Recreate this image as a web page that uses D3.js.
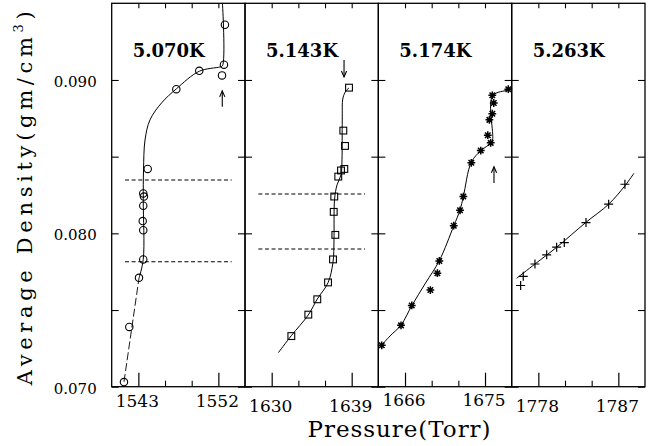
<!DOCTYPE html>
<html><head><meta charset="utf-8">
<script src="https://cdn.jsdelivr.net/npm/d3@7"></script>
<style>body{margin:0;background:#fff}svg{display:block}</style>
</head><body>
<svg id="c" width="653" height="446"></svg>
<script>
// ---------- data ----------
const temps = ["5.070K", "5.143K", "5.174K", "5.263K"];
const xDomains = [[1540, 1555], [1627, 1642], [1663, 1678], [1775, 1790]];
const xMajorTicks = [[1543, 1552], [1630, 1639], [1666, 1675], [1778, 1787]];
const xMinorTicks = [[1546, 1549], [1633, 1636], [1669, 1672], [1781, 1784]];
const yDomain = [0.070, 0.095];
const yTicks = [0.070, 0.075, 0.080, 0.085, 0.090];
const yTickLabels = ["0.070", "0.080", "0.090"];
const markerTypes = ["circle", "square", "star", "plus"];

// measured points [pressure (Torr), average density (gm/cm^3)]
const pts5070 = [[1552.74,0.0936],[1552.63,0.0910],[1552.41,0.0903],[1549.85,0.0906],[1547.27,0.0894],
  [1544.05,0.0842],[1543.55,0.0826],[1543.63,0.0824],[1543.55,0.0818],[1543.49,0.0808],
  [1543.55,0.0802],[1543.55,0.0783],[1543.07,0.0771],[1541.98,0.0739],[1541.38,0.0703]];
const pts5143 = [[1638.70,0.0895],[1638.06,0.0867],[1638.25,0.0857],[1638.17,0.0842],[1637.80,0.0841],
  [1637.49,0.0837],[1637.04,0.0824],[1636.98,0.0814],[1637.16,0.0799],[1636.90,0.0783],
  [1636.34,0.0768],[1635.13,0.0757],[1634.12,0.0747],[1632.21,0.0733]];
const pts5174 = [[1677.62,0.0894],[1675.82,0.0890],[1675.98,0.0885],[1675.82,0.0878],[1675.49,0.0874],
  [1675.31,0.0864],[1675.64,0.0859],[1674.52,0.0854],[1673.46,0.0846],[1672.56,0.0824],
  [1672.19,0.0815],[1671.48,0.0805],[1669.86,0.0782],[1669.64,0.0774],[1668.85,0.0763],
  [1666.76,0.0753],[1665.55,0.0740],[1663.38,0.0727]];
const pts5263 = [[1787.74,0.0832],[1785.91,0.0819],[1783.36,0.0807],[1780.92,0.0794],[1780.06,0.0791],
  [1778.94,0.0786],[1777.62,0.0780],[1776.30,0.0772],[1776.01,0.0766]];

// fitted guide curves
const fit5070a = [[1541.38,0.07031],[1543.07,0.07707]];
const fit5070b = [[1543.07,0.07707],[1543.55,0.07831],[1543.55,0.08218],[1543.58,0.08414],[1543.75,0.08609],
  [1544.31,0.0874],[1545.62,0.08851],[1547.27,0.08942],[1549.85,0.09057],[1552.18,0.09085],
  [1552.46,0.09092],[1552.46,0.0950]];
const fit5143 = [[1630.75,0.07222],[1632.21,0.07333],[1634.12,0.07468],[1635.13,0.07572],[1636.34,0.07678],
  [1636.90,0.07813],[1637.01,0.07957],[1637.07,0.08218],[1637.35,0.08316],[1637.80,0.08381],
  [1637.91,0.08479],[1637.94,0.08739],[1638.02,0.08883],[1638.36,0.08929],[1638.70,0.08948]];
const fit5174 = [[1663.38,0.07272],[1664.32,0.07331],[1665.55,0.07402],[1666.76,0.07528],[1668.31,0.07676],
  [1669.86,0.07822],[1671.48,0.08048],[1672.19,0.08153],[1672.56,0.08239],[1673.46,0.08464],
  [1674.52,0.08538],[1675.64,0.08588],[1675.85,0.08609],[1675.85,0.08896],[1677.62,0.08935],[1677.93,0.08944]];
const fit5263 = [[1775.56,0.07707],[1777.62,0.07800],[1780.06,0.07909],[1783.36,0.08072],[1785.91,0.08190],
  [1787.74,0.08310],[1788.76,0.08392]];

// dashed reference levels [P start, P end, density]
const dashes5070 = [[1541.5,1553.5,0.08348],[1541.5,1553.5,0.07815]];
const dashes5143 = [[1628.5,1640.5,0.08257],[1628.5,1640.5,0.07898]];
// arrows [P, tail density, tip density]
const arrows = [[[1552.44,0.08825,0.08929]],[[1638.14,0.09131,0.0902]],[[1676.01,0.08329,0.08434]],[]];

const points = [pts5070, pts5143, pts5174, pts5263];
const fits = [[fit5070b], [fit5143], [fit5174], [fit5263]];
const dashedFits = [[fit5070a], [], [], []];
const dashLevels = [dashes5070, dashes5143, [], []];

// ---------- layout ----------
const mL = 111.7, mR = 645, mT = 3.3, mB = 386.7;
const pw = (mR - mL) / 4;
const labelBase = [407, 412.5, 406.5, 412.5];
const FONT = '"DejaVu Serif", serif';
const svg = d3.select("#c");
const yS = d3.scaleLinear().domain(yDomain).range([mB, mT]);

function marker(g, type, cx, cy) {
  if (type === "circle") {
    g.append("circle").attr("cx", cx).attr("cy", cy).attr("r", 3.7)
      .attr("fill", "none").attr("stroke", "#000").attr("stroke-width", 1.1);
  } else if (type === "square") {
    g.append("rect").attr("x", cx - 3.4).attr("y", cy - 3.4).attr("width", 6.8).attr("height", 6.8)
      .attr("fill", "none").attr("stroke", "#000").attr("stroke-width", 1.1);
  } else if (type === "star") {
    const r = 3.9;
    let d = "";
    for (let k = 0; k < 4; k++) {
      const a = k * Math.PI / 4;
      d += `M${cx - r * Math.cos(a)},${cy - r * Math.sin(a)}L${cx + r * Math.cos(a)},${cy + r * Math.sin(a)}`;
    }
    g.append("path").attr("d", d).attr("stroke", "#000").attr("stroke-width", 1.5).attr("fill", "none");
    g.append("circle").attr("cx", cx).attr("cy", cy).attr("r", 1.5).attr("fill", "#000");
  } else {
    const r = 4.5;
    g.append("path").attr("d", `M${cx - r},${cy}L${cx + r},${cy}M${cx},${cy - r}L${cx},${cy + r}`)
      .attr("stroke", "#000").attr("stroke-width", 1.2);
  }
}

const lineGen = d3.line().curve(d3.curveCatmullRom.alpha(0.5));

temps.forEach((t, i) => {
  const x0 = mL + i * pw;
  const x = d3.scaleLinear().domain(xDomains[i]).range([x0, x0 + pw]);
  const g = svg.append("g");

  const bMaj = g.append("g").attr("transform", `translate(0,${mB})`)
    .call(d3.axisBottom(x).tickValues(xMajorTicks[i]).tickSizeInner(-14).tickSizeOuter(0).tickFormat(d3.format("d")));
  bMaj.select(".domain").remove();
  bMaj.selectAll("line").attr("stroke", "#000").attr("stroke-width", 1.2);
  bMaj.selectAll("text").attr("y", labelBase[i] - mB).attr("dy", null)
    .style("font-family", FONT).style("font-size", "17px").attr("fill", "#000").attr("dx", -1.5);
  const bMin = g.append("g").attr("transform", `translate(0,${mB})`)
    .call(d3.axisBottom(x).tickValues(xMinorTicks[i]).tickSizeInner(-6).tickSizeOuter(0).tickFormat(""));
  bMin.select(".domain").remove();
  bMin.selectAll("line").attr("stroke", "#000").attr("stroke-width", 1.1);
  const tAx = g.append("g").attr("transform", `translate(0,${mT})`)
    .call(d3.axisTop(x).tickValues(xMajorTicks[i].concat(xMinorTicks[i])).tickSizeInner(-5).tickSizeOuter(0).tickFormat(""));
  tAx.select(".domain").remove();
  tAx.selectAll("line").attr("stroke", "#000").attr("stroke-width", 1.1);
  const lAx = g.append("g").attr("transform", `translate(${x0},0)`)
    .call(d3.axisLeft(yS).tickValues(yTicks).tickSizeInner(-7).tickSizeOuter(0)
      .tickFormat(d => (i === 0 && yTickLabels.includes(d3.format(".3f")(d))) ? d3.format(".3f")(d) : ""));
  lAx.select(".domain").remove();
  lAx.selectAll("line").attr("stroke", "#000").attr("stroke-width", 1.1);
  lAx.selectAll("text").attr("x", -15).attr("dy", "0.42em")
    .style("font-family", FONT).style("font-size", "15px").attr("fill", "#000");
  const rAx = g.append("g").attr("transform", `translate(${x0 + pw},0)`)
    .call(d3.axisRight(yS).tickValues(yTicks).tickSizeInner(-7).tickSizeOuter(0).tickFormat(""));
  rAx.select(".domain").remove();
  rAx.selectAll("line").attr("stroke", "#000").attr("stroke-width", 1.1);

  g.append("rect").attr("x", x0).attr("y", mT).attr("width", pw).attr("height", mB - mT)
    .attr("fill", "none").attr("stroke", "#000").attr("stroke-width", 1.3);

  dashLevels[i].forEach(dl => {
    g.append("line").attr("x1", x(dl[0])).attr("x2", x(dl[1])).attr("y1", yS(dl[2])).attr("y2", yS(dl[2]))
      .attr("stroke", "#000").attr("stroke-width", 1.1).attr("stroke-dasharray", "4,2.6");
  });

  fits[i].forEach(f => {
    g.append("path").attr("d", lineGen(f.map(p => [x(p[0]), yS(p[1])])))
      .attr("fill", "none").attr("stroke", "#000").attr("stroke-width", 1);
  });
  dashedFits[i].forEach(f => {
    g.append("path").attr("d", lineGen(f.map(p => [x(p[0]), yS(p[1])])))
      .attr("fill", "none").attr("stroke", "#000").attr("stroke-width", 0.9).attr("stroke-dasharray", "8,3");
  });

  points[i].forEach(p => marker(g, markerTypes[i], x(p[0]), yS(p[1])));

  arrows[i].forEach(a => {
    const ax = x(a[0]), yt = yS(a[1]), yh = yS(a[2]);
    const s = yh < yt ? 1 : -1;
    g.append("line").attr("x1", ax).attr("x2", ax).attr("y1", yt).attr("y2", yh)
      .attr("stroke", "#000").attr("stroke-width", 1.1);
    g.append("path").attr("d", `M${ax - 2.6},${yh + s * 6}L${ax},${yh}L${ax + 2.6},${yh + s * 6}`)
      .attr("fill", "none").attr("stroke", "#000").attr("stroke-width", 1.1);
  });

  g.append("text").attr("x", x0 + 21).attr("y", 57).text(t)
    .style("font-family", FONT).style("font-size", "18px").style("font-weight", "bold").attr("fill", "#000");
});

function spread(sel, target) {
  const n = sel.text().length;
  const w = sel.node().getComputedTextLength();
  sel.attr("letter-spacing", ((target - w) / (n - 1)).toFixed(2));
}
const xt = svg.append("text").attr("x", 399.5).attr("y", 437).attr("text-anchor", "middle")
  .style("font-family", FONT).style("font-size", "23px").attr("fill", "#000").text("Pressure(Torr)");
spread(xt, 183);

const ytl = svg.append("text").attr("transform", "translate(32,196) rotate(-90)").attr("text-anchor", "middle")
  .style("font-family", FONT).style("font-size", "21px").attr("fill", "#000");
ytl.append("tspan").text("Average Density(gm/cm");
ytl.append("tspan").style("font-size", "13px").attr("dy", -9).text("3");
ytl.append("tspan").attr("dy", 9).text(")");
spread(ytl, 374);
</script>
</body></html>
